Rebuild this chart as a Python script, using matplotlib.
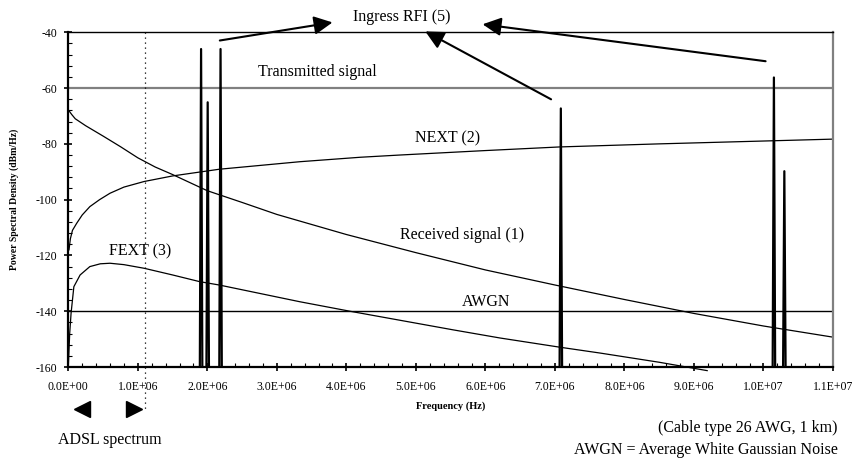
import matplotlib
matplotlib.use("Agg")
import matplotlib.pyplot as plt
from matplotlib.ticker import MultipleLocator, FuncFormatter

plt.rcParams['font.family'] = ['Liberation Serif', 'DejaVu Serif']
plt.rcParams['axes.unicode_minus'] = False

# frequencies in MHz, levels in dBm/Hz
rx_f = [0, 0.05, 0.1, 0.25, 0.5, 0.75, 1.0, 1.25, 1.5, 2.0, 2.5, 3.0, 4.0,
        5.0, 6.0, 7.0, 8.0, 9.0, 10.0, 11.0]
rx_db = [-67.8, -69.5, -71, -73.5, -77.2, -81, -85, -88.3, -91, -96.8, -101,
         -105.3, -112.5, -119, -125.2, -130.6, -135.8, -140.8, -145.3, -149.3]

next_f = [0.01, 0.03, 0.06, 0.12, 0.2, 0.31, 0.45, 0.6, 0.8, 1.09, 1.5, 2.17,
          3.33, 4.2, 4.77, 6.0, 7.07, 8.5, 10.12, 11.0]
next_db = [-118, -114, -111, -108.5, -105.5, -102.5, -100, -97.7, -95.5, -93.5,
           -91.5, -89.1, -86.4, -84.8, -84, -82.4, -81.1, -80, -78.9, -78.3]

fext_f = [0.0, 0.02, 0.04, 0.08, 0.17, 0.31, 0.46, 0.6, 0.8, 1.09, 1.5, 1.89,
          2.17, 3.33, 4.05, 5.54, 6.21, 7.07, 7.65, 8.5, 9.19]
fext_db = [-160, -148, -140.7, -131.2, -127, -124, -123, -122.8, -123.3, -124.6,
           -127, -129.4, -130.6, -136.6, -140, -146.7, -149.6, -152.9, -155,
           -158.3, -161.3]

tx_level = -60
awgn_level = -140

# ingress RFI carriers: centre frequency (MHz) and peak level
rfi_f = [1.91, 2.005, 2.19, 7.085, 10.15, 10.3]
rfi_peak = [-46, -65.1, -46, -67.3, -56.2, -89.8]
rfi_half_width = 0.018

adsl_edge = 1.1

fig = plt.figure(figsize=(8.61, 4.58), dpi=100)
ax = fig.add_axes([68.3 / 861, 1 - 367 / 458, (833 - 68.3) / 861, (367 - 32.3) / 458])

MHZ = 1e6
ax.plot([0, 11 * MHZ], [tx_level, tx_level], color='#808080', lw=1.6)
ax.plot([0, 11 * MHZ], [awgn_level, awgn_level], color='black', lw=1.0)
ax.plot([f * MHZ for f in rx_f], rx_db, color='black', lw=0.9)
ax.plot([f * MHZ for f in next_f], next_db, color='black', lw=0.9)
ax.plot([f * MHZ for f in fext_f], fext_db, color='black', lw=0.9, clip_on=False)

for f, p in zip(rfi_f, rfi_peak):
    ax.plot([(f - rfi_half_width) * MHZ, f * MHZ, (f + rfi_half_width) * MHZ],
            [-160, p, -160], color='black', lw=1.6)

# edge of the ADSL band
ax.plot([adsl_edge * MHZ, adsl_edge * MHZ], [-40, -176], color='black',
        lw=0.9, linestyle=(0, (1, 3)), clip_on=False)

ax.set_xlim(0, 11 * MHZ)
ax.set_ylim(-160, -40)
ax.xaxis.set_major_locator(MultipleLocator(1 * MHZ))
ax.xaxis.set_minor_locator(MultipleLocator(0.2 * MHZ))
ax.yaxis.set_major_locator(MultipleLocator(20))
ax.yaxis.set_minor_locator(MultipleLocator(4))
ax.xaxis.set_major_formatter(FuncFormatter(lambda v, pos: f"{v:.1E}"))
ax.tick_params(which='major', direction='inout', length=6, width=1.2, labelsize=8.5)
ax.tick_params(which='minor', direction='in', length=3, width=0.8)
ax.tick_params(axis='x', which='major', pad=7)
ax.tick_params(axis='y', which='major', pad=5)
ax.tick_params(top=False, right=False, which='both')

for s in ['left', 'bottom']:
    ax.spines[s].set_linewidth(1.6)
ax.spines['top'].set_linewidth(1.0)
ax.spines['right'].set_color('#808080')
ax.spines['right'].set_linewidth(1.6)

ax.set_xlabel('Frequency (Hz)', fontsize=7.5, fontweight='bold', labelpad=6)
ax.set_ylabel('Power Spectral Density (dBm/Hz)', fontsize=7, fontweight='bold')
ax.yaxis.set_label_coords(-0.064, 0.5)

lbl = dict(fontsize=11.5, ha='center', va='center')
ax.text(3.59 * MHZ, -54.2, 'Transmitted signal', **lbl)
ax.text(5.46 * MHZ, -77.9, 'NEXT (2)', **lbl)
ax.text(5.67 * MHZ, -112.8, 'Received signal (1)', **lbl)
ax.text(1.03 * MHZ, -118.4, 'FEXT (3)', **lbl)
ax.text(6.01 * MHZ, -136.6, 'AWGN', **lbl)
ax.text(4.79 * MHZ, -34.4, 'Ingress RFI (5)', clip_on=False, **lbl)

arrow = dict(arrowstyle='-|>', color='black', lw=1.5, mutation_scale=28)
ax.annotate('', xy=(3.84 * MHZ, -36.3), xytext=(2.14 * MHZ, -43.1),
            arrowprops=arrow, annotation_clip=False)
ax.annotate('', xy=(5.10 * MHZ, -39.2), xytext=(6.98 * MHZ, -64.5),
            arrowprops=arrow, annotation_clip=False)
ax.annotate('', xy=(5.92 * MHZ, -37.0), xytext=(10.07 * MHZ, -50.5),
            arrowprops=arrow, annotation_clip=False)

# ADSL band arrows below the axis
ax.plot([0.197 * MHZ], [-175], marker='<', markersize=12, color='black', clip_on=False)
ax.plot([0.945 * MHZ], [-175], marker='>', markersize=12, color='black', clip_on=False)

fig.text(110 / 861, 1 - 440 / 458, 'ADSL spectrum', fontsize=11.5, ha='center', va='center')
fig.text(838 / 861, 1 - 428 / 458, '(Cable type 26 AWG, 1 km)', fontsize=11.5,
         ha='right', va='center')
fig.text(838 / 861, 1 - 450 / 458, 'AWGN = Average White Gaussian Noise', fontsize=11.5,
         ha='right', va='center')

fig.savefig('out.png', dpi=100)
